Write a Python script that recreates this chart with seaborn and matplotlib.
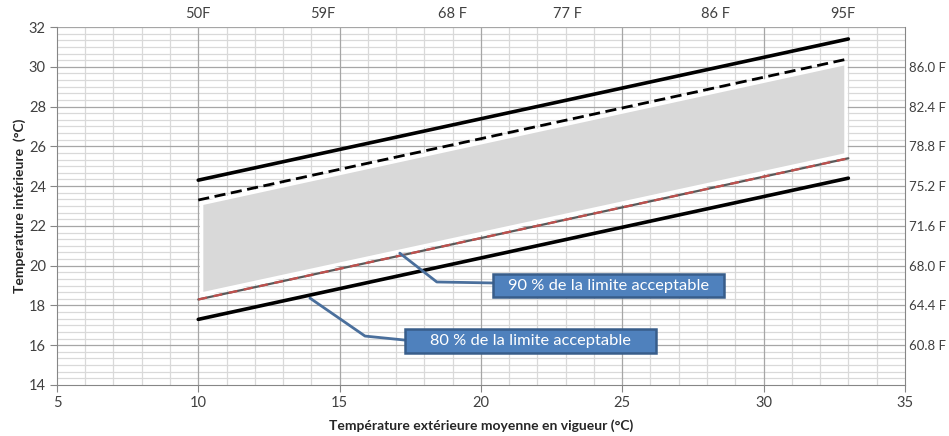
import numpy as np
import pandas as pd
import matplotlib
matplotlib.use("Agg")
import matplotlib.pyplot as plt
from matplotlib.patches import Rectangle
import seaborn as sns

# Data
x_ext = [10, 33]
upper_80 = [24.3, 31.4]
upper_90 = [23.3, 30.4]
lower_90 = [18.3, 25.4]
lower_80 = [17.3, 24.4]

# grey comfort zone (slightly inset)
zone_x = [10.1, 32.9]
zone_low = [18.6, 25.6]
zone_high = [23.15, 30.2]

top_ticks = [10, 14.4, 19.0, 23.05, 28.3, 32.8]
top_labels = ["50F", "59F", "68 F", "77 F", "86 F", "95F"]
right_ticks = [16, 18, 20, 22, 24, 26, 28, 30]
right_labels = ["60.8 F", "64.4 F", "68.0 F", "71.6 F", "75.2 F", "78.8 F", "82.4 F", "86.0 F"]

sns.set_style("white")
plt.rcParams['font.family'] = ['Lato', 'DejaVu Sans']

fig = plt.figure(figsize=(9.49, 4.36), dpi=100)
ax = fig.add_axes([0.060, 0.117, 0.8935, 0.821])

ax.set_xlim(5, 35)
ax.set_ylim(14, 32)

# grid: minor lines first, major lines drawn on top of them
ax.set_xticks(np.arange(5, 36, 5))
ax.set_yticks(np.arange(14, 33, 2))
ax.set_xticks(np.arange(5, 36, 1), minor=True)
ax.set_yticks(np.arange(14, 32.01, 1 / 3), minor=True)
ax.grid(which="minor", color="#d9d9d9", linewidth=0.9)
ax.grid(which="major", visible=False)
for v in range(10, 35, 5):
    ax.axvline(v, color="#a6a6a6", linewidth=0.9, zorder=1)
for v in range(16, 33, 2):
    ax.axhline(v, color="#a6a6a6", linewidth=0.9, zorder=1)
ax.set_axisbelow(True)
for s in ax.spines.values():
    s.set_color("#868686")
ax.spines["top"].set_visible(False)

ax.fill_between(zone_x, zone_low, zone_high, facecolor="#d9d9d9",
                edgecolor="white", linewidth=2.5, zorder=2)

sns.lineplot(x=x_ext, y=upper_80, ax=ax, color="black", linewidth=2.6, zorder=3)
sns.lineplot(x=x_ext, y=lower_80, ax=ax, color="black", linewidth=2.6, zorder=3)
sns.lineplot(x=x_ext, y=upper_90, ax=ax, color="black", linewidth=2.0,
             linestyle=(0, (4, 2)), zorder=3)
sns.lineplot(x=x_ext, y=lower_90, ax=ax, color="#595959", linewidth=1.6, zorder=3)
sns.lineplot(x=x_ext, y=lower_90, ax=ax, color="#c0504d", linewidth=1.6,
             linestyle=(0, (4, 3)), zorder=3)

ax.tick_params(axis="both", which="major", length=5, color="#868686",
               labelsize=10.5, labelcolor="#404040", pad=3)
ax.tick_params(axis="both", which="minor", length=0)
ax.set_xticklabels([str(v) for v in range(5, 36, 5)])
ax.set_yticklabels([str(v) for v in range(14, 33, 2)])

ax.set_xlabel("Température extérieure moyenne en vigueur (°C)", fontsize=10,
              fontweight="bold", labelpad=7)
ax.set_ylabel("Temperature intérieure  (°C)", fontsize=10,
              fontweight="bold", labelpad=2)

# top Fahrenheit labels
axt = ax.twiny()
axt.set_xlim(ax.get_xlim())
axt.set_xticks(top_ticks)
axt.set_xticklabels(top_labels)
axt.tick_params(axis="x", length=0, labelsize=10.5, labelcolor="#404040", pad=4)
for s in axt.spines.values():
    s.set_visible(False)
axt.grid(False)

# right Fahrenheit labels
axr = ax.twinx()
axr.set_ylim(ax.get_ylim())
axr.set_yticks(right_ticks)
axr.set_yticklabels(right_labels)
axr.tick_params(axis="y", length=0, labelsize=9.5, labelcolor="#404040", pad=3)
for s in axr.spines.values():
    s.set_visible(False)
axr.grid(False)

# callouts
ax.plot([17.13, 18.44, 20.42], [20.63, 19.18, 19.13], color="#4a6f9c", linewidth=2, zorder=4)
ax.plot([13.95, 15.9, 17.3], [18.37, 16.46, 16.26], color="#4a6f9c", linewidth=2, zorder=4)
for (x0, x1, y0, y1, txt) in [(20.42, 28.6, 18.4, 19.6, "90 % de la limite acceptable"),
                               (17.3, 26.2, 15.6, 16.8, "80 % de la limite acceptable")]:
    ax.add_patch(Rectangle((x0, y0), x1 - x0, y1 - y0, facecolor="#4f81bd",
                           edgecolor="#385d8a", linewidth=1.8, zorder=5))
    ax.text((x0 + x1) / 2, (y0 + y1) / 2, txt, color="white", fontsize=11.8,
            ha="center", va="center", zorder=6)

fig.savefig("out.png", dpi=100)
